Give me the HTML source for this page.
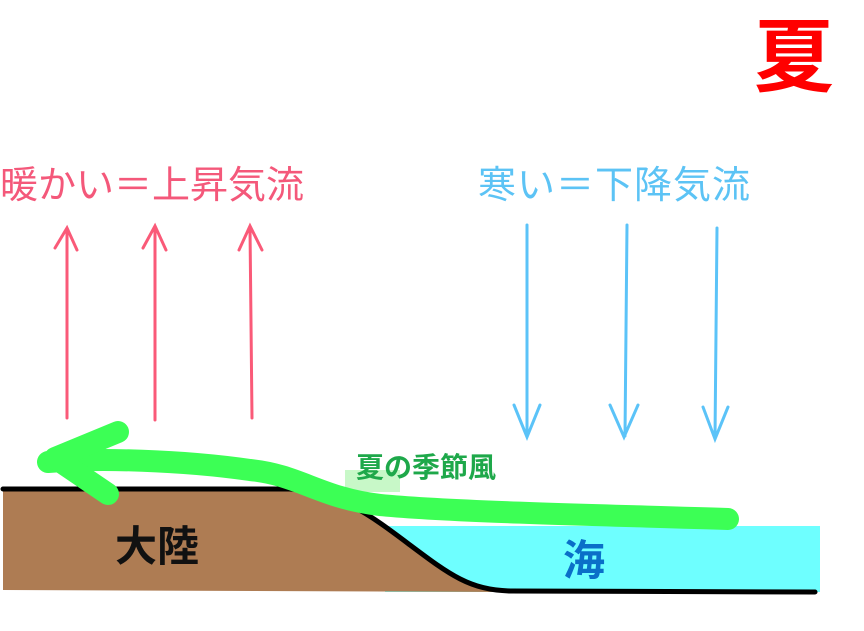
<!DOCTYPE html>
<html><head><meta charset="utf-8"><style>
body{margin:0;width:864px;height:631px;background:#fff;overflow:hidden;position:relative;font-family:"Liberation Sans","Noto Sans CJK JP",sans-serif}
.t{position:absolute;white-space:nowrap;font-weight:bold}
</style></head><body>
<svg width="864" height="631" style="position:absolute;left:0;top:0">
<rect x="385" y="526" width="435" height="66" fill="#6effff"/>
<path d="M3,489 L290,489 C340,492 370,515 410,545 C450,575 470,590 510,590 L500,592 L3,590 Z" fill="#ae7c53"/>
<path d="M3,489 L290,489 C340,492 370,515 410,545 C450,575 470,590 510,591 L815,592" fill="none" stroke="#000" stroke-width="5" stroke-linecap="round"/>
<polygon points="345,470 400,470 400,492 345,492" fill="#c8f8c8"/>
<g fill="none" stroke="#3cff55" stroke-width="22" stroke-linecap="round" stroke-linejoin="round">
<path d="M728,519 C600,515 450,512 380,505 C320,498 300,475 250,470 C180,460 100,458 48,462"/>
<path d="M118,432 L55,458 L108,494"/>
</g>
<g stroke="#fa5a78" stroke-width="3" fill="none" stroke-linecap="round">
<path d="M67,418 L67,230 M55,248 L67,228 L77,250"/>
<path d="M155,420 L155,228 M143,248 L155,226 L166,250"/>
<path d="M252,418 L250,228 M239,250 L250,226 L262,250"/>
</g>
<g stroke="#5bc3f8" stroke-width="3" fill="none" stroke-linecap="round">
<path d="M527,225 L527,436 M514,405 L527,437 L540,405"/>
<path d="M627,225 L625,436 M610,405 L624,437 L638,405"/>
<path d="M717,228 L715,438 M703,407 L715,439 L728,407"/>
</g>
</svg>
<div class="t" style="left:754px;top:10px;font-size:80px;color:#f00;line-height:96px">夏</div>
<div class="t" style="left:0;top:166px;font-size:38px;color:#f4587a;line-height:40px;font-weight:normal">暖かい＝上昇気流</div>
<div class="t" style="left:478px;top:166px;font-size:38px;letter-spacing:1px;color:#5cc3f5;line-height:40px;font-weight:normal">寒い＝下降気流</div>
<div class="t" style="left:356px;top:452px;font-size:28px;color:#1ea84a;line-height:32px">夏の季節風</div>
<div class="t" style="left:115px;top:524px;font-size:42px;color:#111;line-height:46px">大陸</div>
<div class="t" style="left:563px;top:538px;font-size:42px;color:#0a6fc8;line-height:46px">海</div>
</body></html>
